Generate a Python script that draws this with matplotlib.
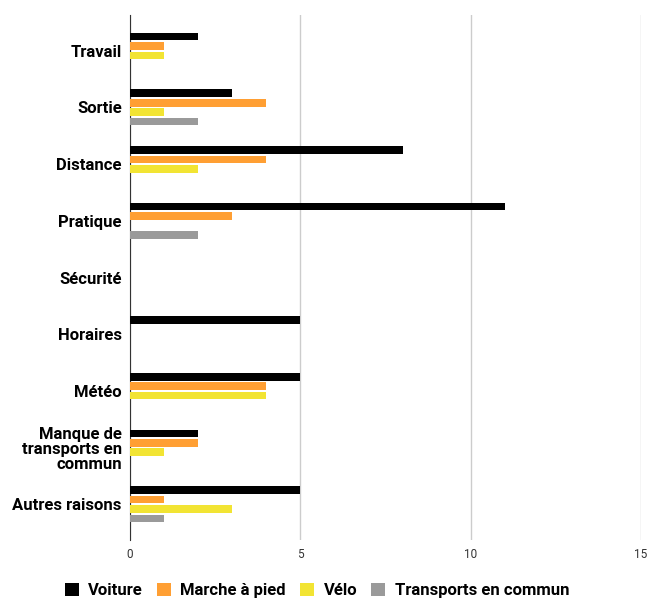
import numpy as np
import matplotlib.pyplot as plt
from matplotlib.patches import Patch

# Raisons et nombre de réponses par mode de transport
raisons = ["Travail", "Sortie", "Distance", "Pratique", "Sécurité", "Horaires",
           "Météo", "Manque de\ntransports en\ncommun", "Autres raisons"]
voiture = [2, 3, 8, 11, 0, 5, 5, 2, 5]
marche = [1, 4, 4, 3, 0, 0, 4, 2, 1]
velo = [1, 1, 2, 0, 0, 0, 4, 1, 3]
transports = [0, 2, 0, 2, 0, 0, 0, 0, 1]

series = ["Voiture", "Marche à pied", "Vélo", "Transports en commun"]
couleurs = ["#000000", "#ff9f33", "#f2e433", "#9a9a9a"]

fig = plt.figure(figsize=(6.59, 6.01), dpi=100)
ax = fig.add_axes([130 / 659, 61 / 601, 511 / 659, 525 / 601])

y = np.arange(len(raisons))
pas = 0.167
hauteur = 0.135
for i, (vals, c) in enumerate(zip([voiture, marche, velo, transports], couleurs)):
    ax.barh(y + (i - 1.5) * pas, vals, height=hauteur, color=c, linewidth=0, zorder=3)

ax.set_xlim(0, 15)
ax.set_ylim(len(raisons) - 0.37, -0.63)
ax.set_xticks([0, 5, 10, 15])
ax.set_yticks(y)
ax.set_yticklabels(raisons, fontfamily="Roboto", fontweight="bold", fontsize=12,
                   linespacing=1.0)
for lab in ax.get_xticklabels():
    lab.set_fontfamily("Roboto")
    lab.set_fontsize(8.5)
    lab.set_color("#333333")

ax.grid(axis="x", color="#cccccc", linewidth=1, zorder=0)
for s in ["top", "right", "bottom"]:
    ax.spines[s].set_visible(False)
ax.spines["left"].set_color("#333333")
ax.tick_params(axis="both", length=0)
ax.tick_params(axis="y", pad=6)
ax.tick_params(axis="x", pad=6)

handles = [Patch(facecolor=c, edgecolor="none") for c in couleurs]
fig.legend(handles, series, loc="center", bbox_to_anchor=(0.481, 0.017),
           ncol=4, frameon=False, handlelength=0.85, handleheight=0.85,
           handletextpad=0.55, columnspacing=0.85,
           prop={"family": "Roboto", "weight": "bold", "size": 12})

fig.savefig("out.png", dpi=100)
